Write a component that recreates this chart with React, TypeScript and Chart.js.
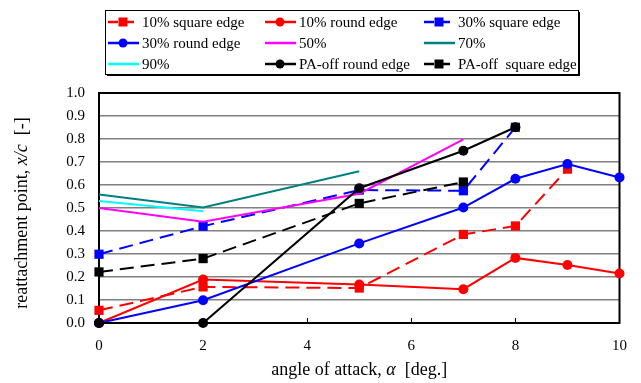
import React, { useEffect, useRef } from "react";
import { Chart, registerables } from "chart.js";
Chart.register(...registerables);

const FONT = "'Liberation Serif', 'Times New Roman', serif";

// series data (x = angle of attack, y = x/c)
const sq10X = [0, 2, 5, 7, 8, 9];
const sq10Y = [0.055, 0.157, 0.152, 0.385, 0.422, 0.669];
const rd10X = [0, 2, 5, 7, 8, 9, 10];
const rd10Y = [0, 0.189, 0.167, 0.147, 0.283, 0.252, 0.215];
const sq30X = [0, 2, 5, 7, 8];
const sq30Y = [0.299, 0.421, 0.578, 0.575, 0.851];
const rd30X = [0, 2, 5, 7, 8, 9, 10];
const rd30Y = [0, 0.099, 0.346, 0.502, 0.627, 0.691, 0.633];
const p50X = [0, 2, 5, 7];
const p50Y = [0.5, 0.44, 0.562, 0.798];
const p70X = [0, 2, 5];
const p70Y = [0.559, 0.502, 0.66];
const p90X = [0, 2];
const p90Y = [0.53, 0.486];
const paRdX = [0, 2, 5, 7, 8];
const paRdY = [0, 0, 0.586, 0.749, 0.851];
const paSqX = [0, 2, 5, 7];
const paSqY = [0.222, 0.28, 0.52, 0.613];

const seriesLabels = [
  "10% square edge",
  "10% round edge",
  "30% square edge",
  "30% round edge",
  "50%",
  "70%",
  "90%",
  "PA-off round edge",
  "PA-off  square edge",
];

const xTicks = [0, 2, 4, 6, 8, 10];
const yMin = 0;
const yMax = 1.0;

const pts = (xs: number[], ys: number[]) => xs.map((x, i) => ({ x, y: ys[i] }));

type Sty = { color: string; dash: number[]; marker: "rect" | "circle" | null };
const styles: Sty[] = [
  { color: "#FF0000", dash: [14, 7], marker: "rect" },
  { color: "#FF0000", dash: [], marker: "circle" },
  { color: "#0000FF", dash: [14, 7], marker: "rect" },
  { color: "#0000FF", dash: [], marker: "circle" },
  { color: "#FF00FF", dash: [], marker: null },
  { color: "#008080", dash: [], marker: null },
  { color: "#00FFFF", dash: [], marker: null },
  { color: "#000000", dash: [], marker: "circle" },
  { color: "#000000", dash: [14, 7], marker: "rect" },
];

const seriesData = [
  pts(sq10X, sq10Y),
  pts(rd10X, rd10Y),
  pts(sq30X, sq30Y),
  pts(rd30X, rd30Y),
  pts(p50X, p50Y),
  pts(p70X, p70Y),
  pts(p90X, p90Y),
  pts(paRdX, paRdY),
  pts(paSqX, paSqY),
];

function drawMixed(ctx: CanvasRenderingContext2D, segs: { t: string; i: boolean }[], size: number, cx: number, cy: number) {
  const f = (i: boolean) => `${i ? "italic " : ""}${size}px ${FONT}`;
  let total = 0;
  for (const s of segs) {
    ctx.font = f(s.i);
    total += ctx.measureText(s.t).width;
  }
  let x = cx - total / 2;
  ctx.textAlign = "left";
  ctx.textBaseline = "middle";
  for (const s of segs) {
    ctx.font = f(s.i);
    ctx.fillText(s.t, x, cy);
    x += ctx.measureText(s.t).width;
  }
}

const frame = {
  id: "frame",
  beforeDatasetsDraw(chart: any) {
    const ctx: CanvasRenderingContext2D = chart.ctx;
    const a = chart.chartArea;
    const xs = chart.scales.x;
    ctx.save();
    ctx.strokeStyle = "#000";
    ctx.lineWidth = 2;
    ctx.setLineDash([]);
    ctx.strokeRect(a.left, a.top, a.right - a.left, a.bottom - a.top);
    ctx.lineWidth = 1;
    for (const t of xTicks) {
      if (t === 0 || t === 10) continue;
      const px = Math.round(xs.getPixelForValue(t)) + 0.5;
      ctx.beginPath();
      ctx.moveTo(px, a.bottom);
      ctx.lineTo(px, a.bottom - 5);
      ctx.stroke();
    }
    ctx.restore();
  },
};

const decor = {
  id: "decor",
  afterDraw(chart: any) {
    const ctx: CanvasRenderingContext2D = chart.ctx;
    const a = chart.chartArea;
    ctx.save();
    // axis titles
    ctx.fillStyle = "#000";
    drawMixed(
      ctx,
      [
        { t: "angle of attack, ", i: false },
        { t: "α", i: true },
        { t: "  [deg.]", i: false },
      ],
      18,
      (a.left + a.right) / 2,
      370
    );
    ctx.save();
    ctx.translate(22, (a.top + a.bottom) / 2 + 5);
    ctx.rotate(-Math.PI / 2);
    drawMixed(
      ctx,
      [
        { t: "reattachment point, ", i: false },
        { t: "x/c", i: true },
        { t: "  [-]", i: false },
      ],
      18,
      0,
      0
    );
    ctx.restore();
    // legend
    const L = 105, T = 10, W = 473, H = 64;
    ctx.fillStyle = "#000";
    ctx.fillRect(L + 2, T + 2, W, H);
    ctx.fillStyle = "#fff";
    ctx.fillRect(L, T, W, H);
    ctx.strokeStyle = "#000";
    ctx.lineWidth = 1;
    ctx.strokeRect(L + 0.5, T + 0.5, W, H);
    const colX = [108, 265, 424];
    const rowY = [22, 43, 64];
    ctx.font = `15px ${FONT}`;
    ctx.textAlign = "left";
    ctx.textBaseline = "middle";
    seriesLabels.forEach((lab, i) => {
      const s = styles[i];
      const x0 = colX[i % 3];
      const y0 = rowY[Math.floor(i / 3)];
      ctx.strokeStyle = s.color;
      ctx.lineWidth = 2.5;
      ctx.setLineDash(s.dash.length ? [10, 6] : []);
      ctx.beginPath();
      ctx.moveTo(x0, y0);
      ctx.lineTo(x0 + 31, y0);
      ctx.stroke();
      ctx.setLineDash([]);
      ctx.fillStyle = s.color;
      const mx = x0 + 15;
      if (s.marker === "rect") ctx.fillRect(mx - 4.5, y0 - 4.5, 9, 9);
      if (s.marker === "circle") {
        ctx.beginPath();
        ctx.arc(mx, y0, 4.5, 0, Math.PI * 2);
        ctx.fill();
      }
      ctx.fillStyle = "#000";
      ctx.fillText(lab, x0 + 34, y0 + 1);
    });
    ctx.restore();
  },
};

export default function App() {
  const ref = useRef<HTMLCanvasElement>(null);
  useEffect(() => {
    if (!ref.current) return;
    const chart = new Chart(ref.current, {
      type: "line",
      data: {
        datasets: seriesData.map((d, i) => {
          const s = styles[i];
          return {
            label: seriesLabels[i],
            data: d,
            order: seriesData.length - i,
            borderColor: s.color,
            backgroundColor: s.color,
            borderWidth: 2,
            borderDash: s.dash,
            pointStyle: s.marker === "rect" ? "rect" : "circle",
            pointRadius: s.marker === "rect" ? 6.5 : s.marker === "circle" ? 5 : 0,
            pointBorderWidth: 0,
            pointBackgroundColor: s.color,
            tension: 0,
            fill: false,
            clip: false,
          } as any;
        }),
      },
      options: {
        animation: false,
        responsive: false,
        events: [],
        layout: { padding: { top: 93, right: 21, left: 0, bottom: 0 } },
        plugins: { legend: { display: false }, tooltip: { enabled: false } },
        scales: {
          x: {
            type: "linear",
            min: 0,
            max: 10,
            afterBuildTicks: (sc: any) => {
              sc.ticks = xTicks.map((v) => ({ value: v }));
            },
            afterFit: (sc: any) => {
              sc.height = 60;
            },
            grid: { display: false, drawTicks: false },
            border: { display: true, color: "#000", width: 2 },
            ticks: { color: "#000", padding: 14, font: { family: FONT, size: 15 }, maxRotation: 0 },
          },
          y: {
            type: "linear",
            min: yMin,
            max: yMax,
            afterFit: (sc: any) => {
              sc.width = 99;
            },
            grid: { color: "#808080", lineWidth: 1.5, drawTicks: false },
            border: { display: true, color: "#000", width: 2 },
            ticks: {
              stepSize: 0.1,
              color: "#000",
              padding: 14,
              font: { family: FONT, size: 15 },
              callback: (v: any) => Number(v).toFixed(1),
            },
          },
        },
      },
      plugins: [frame, decor],
    });
    return () => chart.destroy();
  }, []);
  return (
    <div style={{ position: "fixed", left: 0, top: 0, width: 641, height: 383, background: "#fff" }}>
      <canvas ref={ref} width={641} height={383} />
    </div>
  );
}
